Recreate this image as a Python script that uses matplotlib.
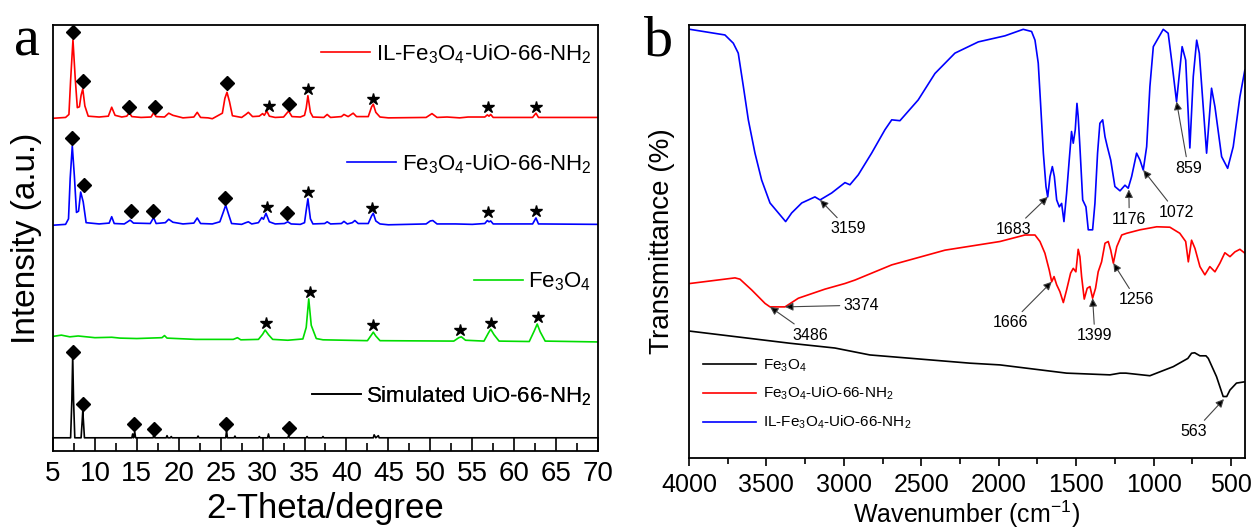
import matplotlib
matplotlib.use('Agg')
import matplotlib.pyplot as plt
from matplotlib.ticker import MultipleLocator

plt.rcParams['font.family'] = ['Liberation Sans', 'DejaVu Sans']
plt.rcParams['mathtext.fontset'] = 'custom'
plt.rcParams['mathtext.rm'] = 'Liberation Sans'
plt.rcParams['mathtext.it'] = 'Liberation Sans:italic'
plt.rcParams['mathtext.default'] = 'regular'

# ---------------- panel a: XRD patterns (2-theta, intensity a.u.) ----------------
il_x = [5.0, 6.5, 6.9, 7.1, 7.38, 7.65, 7.9, 8.15, 8.35, 8.55, 8.8, 9.2, 10.5, 11.6, 12.0, 12.4,
        13.2, 13.8, 14.1, 14.4, 15.5, 16.7, 17.0, 17.3, 18.3, 18.8, 19.3, 20.5, 21.8, 22.2, 22.6,
        23.5, 24.0, 25.2, 25.5, 25.75, 26.05, 26.4, 27.5, 28.0, 28.3, 28.8, 29.6, 30.0, 30.2, 30.5,
        30.8, 31.5, 32.5, 33.1, 33.5, 34.5, 35.0, 35.2, 35.4, 35.7, 36.0, 37.3, 37.7, 38.1, 39.4,
        39.7, 40.2, 40.8, 41.2, 42.6, 43.0, 43.2, 43.5, 44.0, 45.0, 49.5, 50.2, 50.8, 52.0, 53.5,
        54.5, 56.5, 56.8, 57.0, 57.2, 57.5, 62.2, 62.6, 62.9, 70.0]
il_y = [78.1, 78.3, 79.0, 87.0, 96.5, 87.5, 80.6, 80.8, 83.5, 85.0, 81.0, 78.6, 78.4, 78.6, 80.7, 78.8,
        78.4, 78.6, 79.4, 78.5, 78.3, 78.4, 79.4, 78.5, 78.4, 79.3, 78.8, 78.2, 78.4, 79.5, 78.3,
        78.2, 78.0, 79.3, 82.8, 84.2, 82.0, 78.7, 78.3, 79.0, 79.5, 78.5, 78.6, 79.2, 78.8, 79.8,
        78.6, 78.3, 78.4, 79.8, 78.5, 78.4, 78.8, 80.5, 83.4, 79.5, 78.4, 78.3, 79.0, 78.3, 78.5,
        79.0, 78.5, 79.3, 78.5, 78.5, 80.8, 81.4, 79.5, 78.4, 78.2, 78.3, 79.2, 78.3, 78.4, 78.2,
        78.4, 78.4, 78.9, 78.6, 79.0, 78.3, 78.3, 79.3, 78.3, 78.3]

fu_x = [5.0, 6.5, 6.85, 7.05, 7.3, 7.55, 7.8, 8.05, 8.3, 8.6, 8.95, 10.5, 11.7, 12.0, 12.3, 13.5, 13.9,
        14.2, 14.6, 16.6, 17.0, 17.3, 18.4, 18.8, 19.3, 20.5, 21.8, 22.2, 22.6, 24.0, 24.9, 25.3,
        25.6, 25.95, 26.3, 27.5, 28.0, 28.3, 28.7, 29.5, 29.9, 30.1, 30.4, 30.8, 31.5, 32.6, 33.0,
        33.4, 34.5, 35.0, 35.2, 35.4, 35.7, 36.0, 37.4, 37.7, 38.1, 39.4, 39.7, 40.1, 40.7, 41.0,
        41.4, 42.6, 43.0, 43.2, 43.5, 44.0, 45.0, 49.5, 50.0, 50.3, 50.8, 53.0, 55.0, 56.5, 56.8,
        57.0, 57.2, 57.5, 62.2, 62.6, 62.9, 70.0]
fu_y = [53.0, 53.2, 54.5, 64.0, 71.6, 64.5, 56.0, 56.3, 60.8, 58.5, 53.6, 53.3, 53.5, 55.0, 53.4, 53.3, 53.8,
        54.2, 53.5, 53.4, 54.8, 53.4, 53.6, 54.4, 53.7, 53.3, 53.5, 54.7, 53.4, 53.3, 53.8, 56.0,
        57.7, 55.5, 53.4, 53.2, 53.6, 53.8, 53.3, 53.6, 54.8, 54.4, 55.8, 53.8, 53.3, 53.4, 53.8,
        53.3, 53.2, 53.6, 56.5, 59.2, 54.5, 53.3, 53.4, 53.8, 53.3, 53.4, 53.9, 53.3, 53.6, 54.1,
        53.4, 53.4, 55.2, 55.8, 54.0, 53.3, 53.1, 53.3, 54.0, 54.1, 53.3, 53.3, 53.2, 53.4, 54.1,
        53.8, 54.0, 53.3, 53.3, 54.7, 53.3, 53.2]

fe_x = [5.0, 6.0, 7.0, 8.0, 10.0, 12.0, 13.0, 15.0, 18.0, 18.3, 18.6, 22.0, 26.5, 27.0, 27.4, 29.5,
        30.0, 30.3, 30.7, 31.2, 33.0, 34.8, 35.2, 35.5, 35.8, 36.4, 37.2, 42.5, 43.0, 43.2, 43.5,
        44.0, 52.8, 53.4, 53.7, 54.2, 56.4, 56.9, 57.2, 57.6, 58.2, 61.8, 62.4, 62.75, 63.1, 63.7, 70.0]
fe_y = [26.9, 27.2, 26.8, 27.0, 26.6, 26.7, 26.5, 26.4, 26.6, 27.1, 26.5, 26.2, 26.2, 26.6, 26.1, 26.2,
        27.4, 28.4, 27.3, 26.2, 26.0, 26.3, 29.0, 35.7, 29.5, 26.4, 26.1, 25.9, 27.3, 27.9, 27.0,
        25.9, 25.8, 26.6, 26.8, 26.0, 25.8, 27.6, 28.6, 27.3, 25.8, 25.7, 28.2, 29.8, 28.0, 25.8, 25.6]

sim_x = [5.0, 7.1, 7.25, 7.35, 7.45, 7.6, 8.35, 8.48, 8.55, 8.63, 8.75, 14.4, 14.5, 14.6, 14.75, 14.85,
         16.95, 17.05, 17.15, 18.5, 18.6, 18.7, 19.0, 19.1, 19.2, 22.2, 22.3, 22.4, 25.6, 25.7, 25.8,
         26.6, 26.7, 26.8, 29.5, 29.6, 29.7, 30.6, 30.7, 30.8, 33.0, 33.1, 33.2, 35.2, 35.3, 35.4,
         37.1, 37.2, 37.3, 43.2, 43.3, 43.5, 43.8, 43.9, 70.0]
sim_y = [3.1, 3.1, 12.0, 22.5, 12.0, 3.1, 3.1, 7.0, 9.3, 7.0, 3.1, 3.1, 4.0, 3.1, 4.5, 3.1,
         3.1, 4.2, 3.1, 3.1, 3.6, 3.1, 3.1, 3.4, 3.1, 3.1, 3.5, 3.1, 3.1, 4.8, 3.1,
         3.1, 3.5, 3.1, 3.1, 3.4, 3.1, 3.1, 4.0, 3.1, 3.1, 3.6, 3.1, 3.1, 3.4, 3.1,
         3.1, 3.4, 3.1, 3.1, 3.8, 3.1, 3.6, 3.1, 3.1]

# peak markers: diamonds = UiO-66-NH2, stars = Fe3O4
il_dia_x = [7.4, 8.6, 14.1, 17.2, 25.8, 33.2]
il_dia_y = [98.4, 86.9, 80.7, 80.7, 86.4, 81.4]
il_star_x = [30.8, 35.4, 43.2, 56.9, 62.6]
il_star_y = [81.0, 85.0, 82.6, 80.7, 80.8]
fu_dia_x = [7.25, 8.65, 14.3, 16.9, 25.5, 32.9]
fu_dia_y = [73.5, 62.4, 56.3, 56.3, 59.4, 55.8]
fu_star_x = [30.5, 35.4, 43.0, 56.9, 62.6]
fu_star_y = [57.3, 60.8, 57.0, 56.0, 56.3]
fe_star_x = [30.4, 35.6, 43.2, 53.6, 57.2, 62.8]
fe_star_y = [30.0, 37.3, 29.6, 28.4, 30.0, 31.4]
sim_dia_x = [7.35, 8.58, 14.66, 17.1, 25.66, 33.1]
sim_dia_y = [23.2, 11.0, 6.3, 5.2, 6.3, 5.4]

xrd_labels = ['IL-Fe$_3$O$_4$-UiO-66-NH$_2$', 'Fe$_3$O$_4$-UiO-66-NH$_2$', 'Fe$_3$O$_4$',
              'Simulated UiO-66-NH$_2$']

# ---------------- panel b: FTIR spectra (wavenumber, transmittance a.u.) ----------------
ir_blue_x = [3994, 3768, 3714, 3682, 3649, 3617, 3574, 3531, 3477, 3423, 3376, 3337, 3272, 3187, 3154,
             3079, 2993, 2961, 2907, 2821, 2735, 2691, 2638, 2520, 2412, 2283, 2132, 1960, 1842, 1788,
             1766, 1745, 1730, 1712, 1695, 1684, 1669, 1654, 1641, 1626, 1609, 1594, 1579, 1562, 1545,
             1530, 1519, 1506, 1495, 1487, 1476, 1458, 1437, 1422, 1394, 1379, 1362, 1347, 1329, 1314,
             1299, 1277, 1250, 1217, 1185, 1164, 1142, 1110, 1088, 1067, 1045, 1024, 1002, 938, 906,
             884, 852, 816, 793, 766, 744, 722, 705, 658, 626, 604, 561, 522, 486, 443, 411]
ir_blue_y = [99.0, 97.7, 95.8, 93.5, 85.8, 78.1, 70.4, 64.2, 58.9, 56.6, 54.6, 56.6, 58.9, 60.3, 59.6,
             61.2, 63.6, 63.1, 65.4, 70.4, 75.8, 78.1, 77.9, 82.7, 88.8, 93.5, 96.1, 97.5, 99.0, 98.5,
             96.5, 91.2, 81.9, 70.4, 62.7, 60.3, 65.0, 67.3, 65.0, 59.6, 58.0, 58.8, 54.6, 61.1, 68.8,
             75.4, 72.7, 75.8, 81.9, 78.8, 71.9, 59.6, 58.0, 52.7, 52.7, 58.8, 70.4, 77.3, 78.1, 74.2,
             71.9, 68.8, 62.7, 61.7, 63.0, 62.3, 65.0, 70.4, 68.8, 66.5, 71.9, 85.8, 95.0, 99.0, 98.1,
             91.9, 82.3, 95.0, 91.9, 71.6, 88.1, 96.5, 93.5, 70.4, 85.4, 81.1, 69.6, 66.9, 71.9, 83.4, 89.6]

ir_red_x = [3994, 3703, 3671, 3595, 3509, 3477, 3380, 3294, 3122, 2993, 2928, 2691, 2347, 1992, 1831,
            1766, 1734, 1702, 1674, 1658, 1643, 1626, 1605, 1583, 1562, 1536, 1519, 1502, 1487, 1476,
            1465, 1448, 1429, 1411, 1394, 1375, 1358, 1336, 1314, 1293, 1277, 1260, 1238, 1206, 1174,
            1088, 980, 895, 831, 793, 776, 755, 733, 701, 669, 637, 604, 572, 540, 507, 475, 443, 411]
ir_red_y = [40.3, 41.6, 41.3, 38.8, 35.7, 34.9, 34.9, 36.9, 39.0, 40.3, 41.1, 44.6, 48.0, 50.0, 51.5,
            51.5, 50.0, 47.3, 43.4, 40.7, 41.9, 40.0, 38.4, 35.9, 38.8, 42.7, 43.8, 43.0, 48.2, 46.5,
            41.9, 36.7, 39.2, 39.6, 36.9, 39.2, 43.0, 45.3, 49.6, 50.0, 48.0, 45.0, 48.8, 51.5, 51.9,
            52.7, 53.4, 53.3, 51.9, 50.0, 45.3, 50.3, 48.4, 44.2, 42.3, 44.2, 43.0, 45.0, 47.4, 46.5,
            47.6, 48.2, 47.3]

ir_black_x = [3994, 3348, 3058, 2832, 2186, 1992, 1562, 1282, 1217, 1179, 1024, 873, 779, 755, 735,
              701, 662, 647, 594, 551, 528, 507, 465, 411]
ir_black_y = [29.3, 26.5, 25.4, 23.8, 21.9, 21.5, 19.6, 19.2, 19.6, 19.6, 19.0, 21.1, 23.0, 24.2, 24.3,
              23.6, 23.6, 23.0, 18.8, 14.2, 14.2, 15.7, 17.3, 17.6]

ir_labels = ['Fe$_3$O$_4$', 'Fe$_3$O$_4$-UiO-66-NH$_2$', 'IL-Fe$_3$O$_4$-UiO-66-NH$_2$']

# band labels: text, arrow head (wn, T), text position (wn, T)
band_text = ['3159', '3374', '3486', '1683', '1176', '1072', '859', '1666', '1399', '1256', '563']
band_head_x = [3154, 3380, 3477, 1684, 1160, 1067, 852, 1658, 1394, 1260, 546]
band_head_y = [59.6, 34.9, 34.9, 60.3, 62.0, 66.5, 82.3, 40.7, 36.9, 45.0, 13.6]
band_txt_x = [2973, 2885, 3219, 1902, 1157, 852, 776, 1921, 1379, 1110, 740]
band_txt_y = [52.9, 35.3, 28.4, 52.8, 55.1, 56.7, 66.9, 31.2, 28.2, 36.5, 6.1]

RED = '#ff0000'
BLUE = '#0000ff'
GREEN = '#00dd00'

fig = plt.figure(figsize=(12.54, 5.32), dpi=100)
ax1 = fig.add_axes([53 / 1254, 81 / 532, 545 / 1254, 426 / 532])
ax2 = fig.add_axes([689 / 1254, 74 / 532, 556 / 1254, 433 / 532])

# ---- panel a
lw = 1.2
l_il, = ax1.plot(il_x, il_y, color=RED, lw=lw)
l_fu, = ax1.plot(fu_x, fu_y, color=BLUE, lw=lw)
l_fe, = ax1.plot(fe_x, fe_y, color=GREEN, lw=lw)
l_sim, = ax1.plot(sim_x, sim_y, color='black', lw=lw)

for dx, dy in [(il_dia_x, il_dia_y), (fu_dia_x, fu_dia_y), (sim_dia_x, sim_dia_y)]:
    ax1.plot(dx, dy, 'D', color='black', ms=7, ls='none')
for sx, sy in [(il_star_x, il_star_y), (fu_star_x, fu_star_y), (fe_star_x, fe_star_y)]:
    ax1.plot(sx, sy, '*', color='black', ms=9, ls='none')

leg_y = [0.932, 0.674, 0.397, 0.129]
for line, lab, yy in zip([l_il, l_fu, l_fe, l_sim], xrd_labels, leg_y):
    leg = ax1.legend([line], [lab], loc='center right', bbox_to_anchor=(1.0, yy), frameon=False,
                     fontsize=16, handlelength=2.2, handletextpad=0.25, borderaxespad=0.3, borderpad=0)
    ax1.add_artist(leg)

ax1.set_xlim(5, 70)
ax1.set_ylim(0, 100)
ax1.set_yticks([])
ax1.xaxis.set_major_locator(MultipleLocator(5))
ax1.xaxis.set_minor_locator(MultipleLocator(2.5))
ax1.tick_params(axis='x', which='both', direction='in', top=False, labelsize=20, pad=7, width=1.2)
ax1.tick_params(axis='x', which='major', length=10)
ax1.tick_params(axis='x', which='minor', length=6)
ax1.set_xlabel('2-Theta/degree', fontsize=25, labelpad=4)
ax1.set_ylabel('Intensity (a.u.)', fontsize=24, labelpad=8)
for sp in ax1.spines.values():
    sp.set_linewidth(1.3)

# ---- panel b
ax2.plot(ir_black_x, ir_black_y, color='black', lw=lw, label=ir_labels[0])
ax2.plot(ir_red_x, ir_red_y, color=RED, lw=lw, label=ir_labels[1])
ax2.plot(ir_blue_x, ir_blue_y, color=BLUE, lw=lw, label=ir_labels[2])

for t, hx, hy, tx, ty in zip(band_text, band_head_x, band_head_y, band_txt_x, band_txt_y):
    ax2.annotate(t, xy=(hx, hy), xytext=(tx, ty), ha='center', va='center', fontsize=11.5,
                 arrowprops=dict(arrowstyle='-|>', fc='black', ec='#444444', lw=0.8,
                                 mutation_scale=12, shrinkA=1, shrinkB=0))

ax2.legend(loc='lower left', bbox_to_anchor=(0.0, 0.03), frameon=False, fontsize=11,
           handlelength=3.5, handletextpad=0.45, labelspacing=0.75)

ax2.set_xlim(4000, 410)
ax2.set_ylim(0, 100)
ax2.set_yticks([])
ax2.xaxis.set_major_locator(MultipleLocator(500))
ax2.xaxis.set_minor_locator(MultipleLocator(250))
ax2.tick_params(axis='x', which='both', direction='out', top=False, labelsize=18, pad=5, width=1.2)
ax2.tick_params(axis='x', which='major', length=6)
ax2.tick_params(axis='x', which='minor', length=4)
ax2.set_xlabel('Wavenumber (cm$^{-1}$)', fontsize=18, labelpad=1)
ax2.set_ylabel('Transmittance (%)', fontsize=20, labelpad=10)
for sp in ax2.spines.values():
    sp.set_linewidth(1.3)

fig.text(14 / 1254, 1 - 56 / 532, 'a', fontsize=42, family='Liberation Serif', va='baseline')
fig.text(644 / 1254, 1 - 56 / 532, 'b', fontsize=42, family='Liberation Serif', va='baseline')

fig.savefig('out.png', dpi=100)
